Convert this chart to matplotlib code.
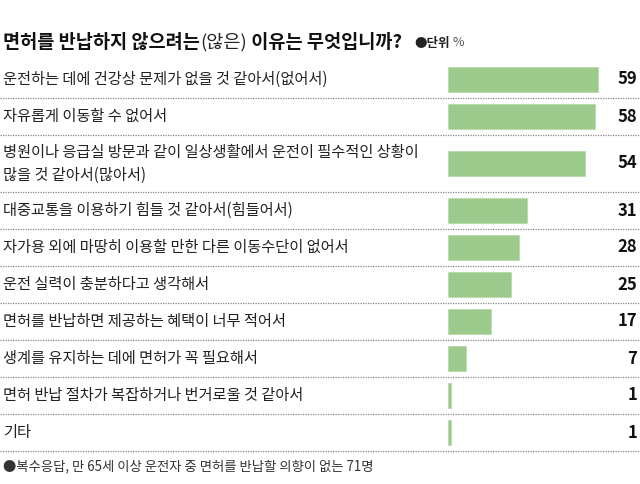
import matplotlib
matplotlib.use("Agg")
import matplotlib.pyplot as plt

plt.rcParams['font.family'] = ['Noto Sans CJK KR', 'DejaVu Sans']

# data
reasons = [
    "운전하는 데에 건강상 문제가 없을 것 같아서(없어서)",
    "자유롭게 이동할 수 없어서",
    "병원이나 응급실 방문과 같이 일상생활에서 운전이 필수적인 상황이\n많을 것 같아서(많아서)",
    "대중교통을 이용하기 힘들 것 같아서(힘들어서)",
    "자가용 외에 마땅히 이용할 만한 다른 이동수단이 없어서",
    "운전 실력이 충분하다고 생각해서",
    "면허를 반납하면 제공하는 혜택이 너무 적어서",
    "생계를 유지하는 데에 면허가 꼭 필요해서",
    "면허 반납 절차가 복잡하거나 번거로울 것 같아서",
    "기타",
]
shares = [59, 58, 54, 31, 28, 25, 17, 7, 1, 1]

title_main = "면허를 반납하지 않으려는"
title_light = "(않은)"
title_end = " 이유는 무엇입니까?"
unit_note = "●단위"
footnote = "●복수응답, 만 65세 이상 운전자 중 면허를 반납할 의향이 없는 71명"

# layout (pixels, figure is 640x484)
W, H = 640, 484
row_h = [37, 37, 57, 37, 37, 37, 37, 37, 37, 37]
top = 61
bar_x0 = 448
px_per_unit = 2.535
bar_color = "#9cc98c"

fig = plt.figure(figsize=(6.4, 4.84), dpi=100)
ax = fig.add_axes([0, 0, 1, 1])
ax.set_xlim(0, W)
ax.set_ylim(H, 0)
ax.axis("off")

bx = fig.add_axes([bar_x0 / W, 0, 1 - bar_x0 / W, 1])
bx.set_xlim(0, (W - bar_x0) / px_per_unit)
bx.set_ylim(H, 0)
bx.axis("off")

centers = []
y = top
for h in row_h:
    centers.append(y + h / 2)
    y += h
    ax.plot([0, W], [y, y], color="#888888", lw=0.9, ls=(0, (1, 1)))

bx.barh(centers, shares, height=25, color=bar_color, edgecolor="#b8dbab", lw=0.6)

for c, lab, v in zip(centers, reasons, shares):
    ax.text(3, c, lab, ha="left", va="center", fontsize=11, color="#222222",
            linespacing=1.45)
    ax.text(637, c, str(v), ha="right", va="center", fontsize=12,
            fontweight="bold", color="#111111")

# title
t1 = ax.text(3, 42, title_main, ha="left", va="center", fontsize=13.4,
             fontweight="bold", color="#111111")
fig.canvas.draw()
r = fig.canvas.get_renderer()
bb = t1.get_window_extent(r)
t2 = ax.text(bb.x1, 42, title_light, ha="left", va="center", fontsize=13.4,
             fontweight="light", color="#222222")
bb2 = t2.get_window_extent(r)
ax.text(bb2.x1, 42, title_end, ha="left", va="center", fontsize=13.4,
        fontweight="bold", color="#111111")
u = ax.text(414, 43, unit_note, ha="left", va="center", fontsize=9,
            fontweight="bold", color="#222222")
bu = u.get_window_extent(r)
ax.text(bu.x1 + 3, 43, "%", ha="left", va="center", fontsize=9,
        color="#555555")

ax.text(3, 466, footnote, ha="left", va="center", fontsize=9.6, color="#333333")

fig.savefig("out.png", dpi=100)
